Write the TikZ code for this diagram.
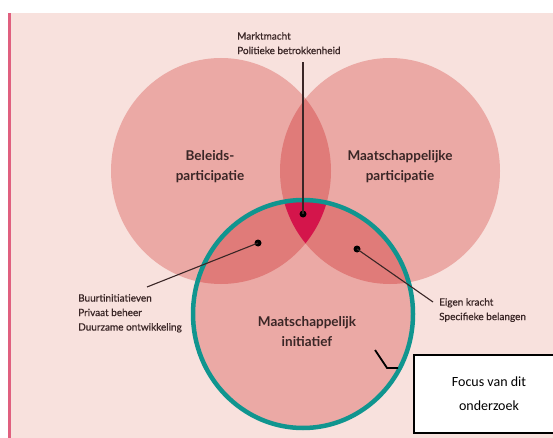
\documentclass[tikz,border=0pt]{standalone}
\usepackage{fontspec}
\setmainfont{Lato}
\newfontfamily\calibrifont{Carlito}
\newfontfamily\latomed[FakeBold=0.6]{Lato}
\definecolor{bgc}{HTML}{F8E1DD}
\definecolor{stripec}{HTML}{E0607F}
\definecolor{cone}{HTML}{EBA9A5}
\definecolor{ctwo}{HTML}{E07B79}
\definecolor{cthree}{HTML}{D4154B}
\definecolor{tealc}{HTML}{10958F}
\definecolor{txtc}{HTML}{3A2626}
\begin{document}
\begin{tikzpicture}[x=1pt,y=-1pt,
  biglab/.style={inner sep=0pt, align=center, text=txtc, font=\bfseries\fontsize{13.5}{20}\selectfont},
  smalllab/.style={inner sep=0pt, align=left, text=txtc, font=\latomed\fontsize{10}{14.5}\selectfont},
  conn/.style={draw=txtc, line width=1.1pt},
  dotc/.style={fill=black},
  lr/.style={x radius=110pt, y radius=113pt},
  br/.style={x radius=110pt, y radius=114pt}]
\useasboundingbox (0,0) rectangle (553,438);
\clip (0,0) rectangle (553,438);
\fill[bgc] (8,13) rectangle (553,438);
\fill[stripec] (8,13) rectangle (10.8,438);
% circle centres
\coordinate (cL) at (221,171);
\coordinate (cR) at (390,171);
\coordinate (cB) at (303,314);
% single fills
\fill[cone] (cL) ellipse[lr];
\fill[cone] (cR) ellipse[lr];
\fill[cone] (cB) ellipse[br];
% double overlaps
\begin{scope}
  \clip (cL) ellipse[lr];
  \fill[ctwo] (cR) ellipse[lr];
  \fill[ctwo] (cB) ellipse[br];
\end{scope}
\begin{scope}
  \clip (cR) ellipse[lr];
  \fill[ctwo] (cB) ellipse[br];
\end{scope}
% triple overlap
\begin{scope}
  \clip (cL) ellipse[lr];
  \clip (cR) ellipse[lr];
  \fill[cthree] (cB) ellipse[br];
\end{scope}
% teal outline
\draw[tealc, line width=4.5pt] (cB) ellipse[br];
% circle labels
\node[biglab, anchor=north] (lblL) at (210,150.5) {Beleids-\\participatie};
\node[biglab, anchor=north] (lblR) at (400,150.5) {Maatschappelijke\\participatie};
\node[biglab, anchor=north] (lblB) at (307,316.5) {Maatschappelijk\\initiatief};
% annotation labels
\node[smalllab, anchor=north west] (tT) at (237,32) {Marktmacht\\Politieke betrokkenheid};
\node[smalllab, anchor=north west] (tL) at (78,294) {Buurtinitiatieven\\Privaat beheer\\Duurzame ontwikkeling};
\node[smalllab, anchor=north west] (tR) at (439,298) {Eigen kracht\\Specifieke belangen};
% dots
\node[dotc, circle, inner sep=0pt, minimum size=7pt] (dT) at (303,214) {};
\node[dotc, circle, inner sep=0pt, minimum size=7pt] (dL) at (258,243) {};
\node[dotc, circle, inner sep=0pt, minimum size=7pt] (dR) at (357,249) {};
% connector ends
\coordinate (eT) at (303,62);
\coordinate (eL) at (147,287);
\coordinate (eR) at (433,302);
\draw[conn] (dT.center) -- (eT);
\draw[conn] (dL.center) -- (eL);
\draw[conn] (dR.center) -- (eR);
% focus box
\node[draw=black, fill=white, line width=2pt, minimum width=150pt, minimum height=78pt,
      anchor=north west, align=center, font=\calibrifont\fontsize{14}{24}\selectfont] (F)
      at (413,354) {Focus van dit\\onderzoek};
\coordinate (k1) at (375,350);
\coordinate (k2) at (387,368);
\coordinate (k3) at (398,368);
\draw[black, line width=1.8pt] (k1) -- (k2) -- (k3);
\end{tikzpicture}
\end{document}
